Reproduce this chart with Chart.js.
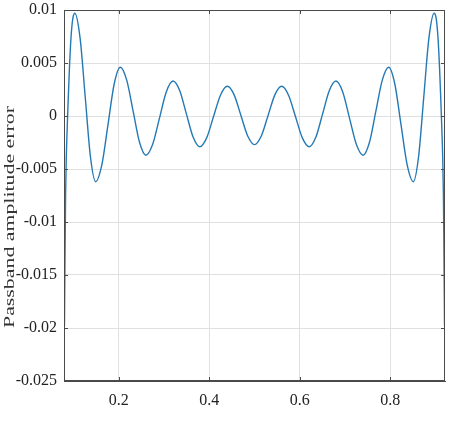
<!DOCTYPE html>
<html>
<head>
<meta charset="utf-8">
<script src="https://cdn.jsdelivr.net/npm/chart.js@4/dist/chart.umd.min.js"></script>
<style>
  html, body { margin: 0; padding: 0; background: #fff; }
  #wrap { width: 450px; height: 426px; }
</style>
</head>
<body>
<div id="wrap"><canvas id="chart" width="450" height="426"></canvas></div>
<script>
  // normalised frequency and passband amplitude error
  var freqValues = [
    0.0800, 0.0812, 0.0825, 0.0840, 0.0860, 0.0880, 0.0910, 0.0945, 0.0985, 0.1030,
    0.1145, 0.1260, 0.1375, 0.1490,
    0.1626, 0.1763, 0.1899, 0.2035,
    0.2176, 0.2318, 0.2459, 0.2600,
    0.2750, 0.2900, 0.3050, 0.3200,
    0.3348, 0.3495, 0.3643, 0.3790,
    0.3943, 0.4095, 0.4248, 0.4400,
    0.4550, 0.4700, 0.4850, 0.5000,
    0.5150, 0.5300, 0.5450, 0.5600,
    0.5752, 0.5905, 0.6057, 0.6210,
    0.6357, 0.6505, 0.6652, 0.6800,
    0.6950, 0.7100, 0.7250, 0.7400,
    0.7541, 0.7682, 0.7824, 0.7965,
    0.8101, 0.8237, 0.8374, 0.8510,
    0.8625, 0.8740, 0.8855, 0.8970,
    0.9015, 0.9055, 0.9090, 0.9120, 0.9140, 0.9160, 0.9175, 0.9188, 0.9200
  ];
  var errorValues = [
    -0.0198, -0.0135, -0.0075, -0.0040, -0.0012, 0.0012, 0.0045, 0.0074, 0.0092, 0.0097,
    0.00737, 0.00175, -0.00387, -0.0062,
    -0.00462, -0.0008, 0.00302, 0.0046,
    0.00338, 0.00045, -0.00248, -0.0037,
    -0.00267, -0.0002, 0.00227, 0.0033,
    0.00239, 0.0002, -0.00199, -0.0029,
    -0.00206, -0.00005, 0.00196, 0.0028,
    0.00199, 0.00005, -0.00189, -0.0027,
    -0.00189, 0.00005, 0.00199, 0.0028,
    0.00196, -0.00005, -0.00206, -0.0029,
    -0.00199, 0.0002, 0.00239, 0.0033,
    0.00227, -0.0002, -0.00267, -0.0037,
    -0.00248, 0.00045, 0.00338, 0.0046,
    0.00302, -0.0008, -0.00462, -0.0062,
    -0.00387, 0.00175, 0.00737, 0.0097,
    0.0092, 0.0074, 0.0045, 0.0012, -0.0012, -0.0040, -0.0075, -0.0135, -0.0198
  ];
  var xTicks = [0.2, 0.4, 0.6, 0.8];
  var xTickLabels = ["0.2", "0.4", "0.6", "0.8"];
  var yTicks = [0.01, 0.005, 0, -0.005, -0.01, -0.015, -0.02, -0.025];
  var yTickLabels = ["0.01", "0.005", "0", "-0.005", "-0.01", "-0.015", "-0.02", "-0.025"];
  var yTitle = "Passband amplitude error";

  var serif = '"Liberation Serif", "Times New Roman", serif';
  var boxColor = "#4a4a4a";

  function pickLabel(values, labels, v) {
    for (var i = 0; i < values.length; i++) {
      if (Math.abs(values[i] - v) < 1e-9) return labels[i];
    }
    return "";
  }

  // box round the plot plus short inward ticks, matlab style
  var framePlugin = {
    id: "frame",
    afterDraw: function (chart) {
      var a = chart.chartArea, ctx = chart.ctx;
      var xs = chart.scales.x, ys = chart.scales.y;
      ctx.save();
      ctx.strokeStyle = boxColor;
      ctx.lineWidth = 1;
      ctx.strokeRect(Math.round(a.left) + 0.5, Math.round(a.top) + 0.5,
        Math.round(a.right - a.left) - 1, Math.round(a.bottom - a.top) - 1);
      ctx.beginPath();
      xTicks.forEach(function (v) {
        var px = Math.round(xs.getPixelForValue(v)) + 0.5;
        ctx.moveTo(px, a.bottom); ctx.lineTo(px, a.bottom - 4);
        ctx.moveTo(px, a.top); ctx.lineTo(px, a.top + 4);
      });
      yTicks.forEach(function (v) {
        var py = Math.round(ys.getPixelForValue(v)) + 0.5;
        ctx.moveTo(a.left, py); ctx.lineTo(a.left + 4, py);
        ctx.moveTo(a.right, py); ctx.lineTo(a.right - 4, py);
      });
      ctx.stroke();

      // y title, stretched along its length like the original
      ctx.fillStyle = "#333";
      ctx.font = "15px " + serif;
      ctx.textAlign = "center";
      ctx.textBaseline = "alphabetic";
      var w = ctx.measureText(yTitle).width;
      ctx.translate(14, 217);
      ctx.rotate(-Math.PI / 2);
      ctx.scale(222 / w, 1);
      ctx.fillText(yTitle, 0, 0);
      ctx.restore();
    }
  };

  new Chart(document.getElementById("chart"), {
    type: "line",
    data: {
      datasets: [{
        data: freqValues.map(function (f, i) { return { x: f, y: errorValues[i] }; }),
        borderColor: "#2479b5",
        borderWidth: 1.4,
        pointRadius: 0,
        fill: false,
        cubicInterpolationMode: "monotone"
      }]
    },
    options: {
      responsive: false,
      animation: false,
      layout: { padding: { left: 0, right: 5, top: 10, bottom: 0 } },
      plugins: { legend: { display: false }, tooltip: { enabled: false } },
      scales: {
        x: {
          type: "linear",
          min: 0.079,
          max: 0.921,
          afterBuildTicks: function (s) { s.ticks = xTicks.map(function (v) { return { value: v }; }); },
          afterFit: function (s) { s.height = 45; s.paddingLeft = 0; s.paddingRight = 0; },
          ticks: {
            autoSkip: false,
            maxRotation: 0,
            padding: 10,
            color: "#222",
            font: { family: serif, size: 16 },
            callback: function (v) { return pickLabel(xTicks, xTickLabels, v); }
          },
          grid: { color: "#e0e0e0", drawTicks: false },
          border: { color: boxColor }
        },
        y: {
          min: -0.025,
          max: 0.01,
          afterBuildTicks: function (s) { s.ticks = yTicks.map(function (v) { return { value: v }; }); },
          afterFit: function (s) { s.width = 64; s.paddingTop = 0; s.paddingBottom = 0; },
          ticks: {
            autoSkip: false,
            padding: 7,
            color: "#222",
            font: { family: serif, size: 16 },
            callback: function (v) { return pickLabel(yTicks, yTickLabels, v); }
          },
          grid: { color: "#e0e0e0", drawTicks: false },
          border: { color: boxColor }
        }
      }
    },
    plugins: [framePlugin]
  });
</script>
</body>
</html>
